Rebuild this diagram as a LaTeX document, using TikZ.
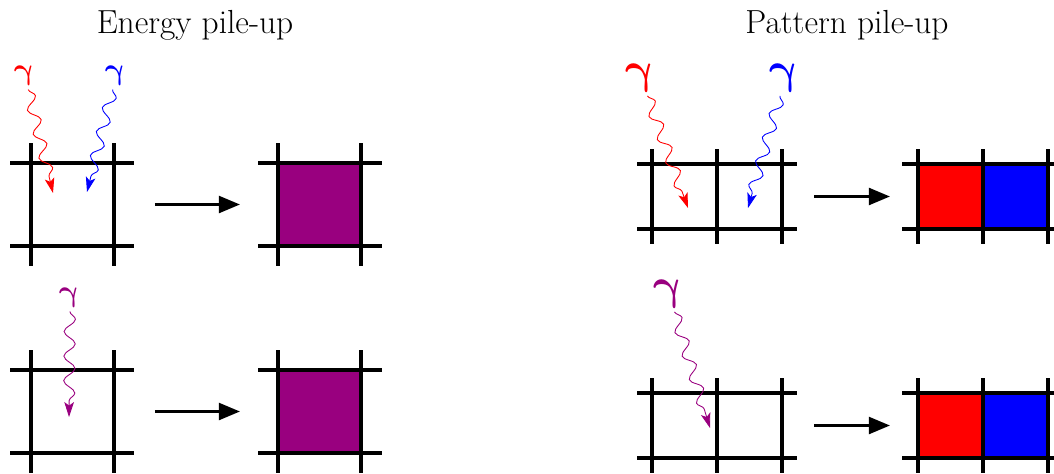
\documentclass[tikz,border=0pt]{standalone}
\usepackage{amsmath}
\usepackage{amssymb}
\usepackage{tikz}
\usetikzlibrary{arrows.meta,decorations.pathmorphing}

\definecolor{pileup}{RGB}{153,0,127}

\begin{document}
\begin{tikzpicture}[
            x=0.02cm, y=-0.02cm,
            grid/.style={line width=2pt},
            bigcell/.style={minimum size=1.66cm, inner sep=0pt, outer sep=0pt},
            smallcell/.style={minimum size=1.3cm, inner sep=0pt, outer sep=0pt},
            flow/.style={line width=1.8pt, -{Triangle[length=12pt,width=9.5pt]}},
            photon/.style={font=\fontsize{19}{19}\selectfont, inner sep=2pt, transform shape},
            bigphoton/.style={font=\fontsize{24}{24}\selectfont, inner sep=2pt, transform shape},
            wave/.style={decorate, line width=0.5pt,
                decoration={snake, amplitude=3.2pt, segment length=14pt, post length=8pt},
                -{Stealth[length=8.5pt,width=5.5pt,inset=2pt]}},
            title/.style={font=\fontsize{19}{21}\selectfont}
        ]
        \useasboundingbox (0,0) rectangle (1054,473);

        % --- Titles ---
        \node[title] (tE) at (195,25) {Energy pile-up};
        \node[title] (tP) at (847,25) {Pattern pile-up};

        % --- Energy pile-up: cells ---
        \node[bigcell] (e1) at (72.5,204.5) {};
        \node[bigcell,fill=pileup] (e2) at (319.5,204.5) {};
        \node[bigcell] (e3) at (72.5,411.5) {};
        \node[bigcell,fill=pileup] (e4) at (319.5,411.5) {};

        % --- Pattern pile-up: cells ---
        \node[smallcell] (p1) at (684.5,196.5) {};
        \node[smallcell] (p2) at (749.5,196.5) {};
        \node[smallcell,fill=red] (p3) at (950.5,196.5) {};
        \node[smallcell,fill=blue] (p4) at (1015.5,196.5) {};
        \node[smallcell] (p5) at (684.5,425.5) {};
        \node[smallcell] (p6) at (749.5,425.5) {};
        \node[smallcell,fill=red] (p7) at (950.5,425.5) {};
        \node[smallcell,fill=blue] (p8) at (1015.5,425.5) {};

        % --- Grid lines ---
        \foreach \x in {31,114,278,361} {
            \draw[grid] (\x,143) -- (\x,266);
            \draw[grid] (\x,350) -- (\x,473);
        }
        \foreach \y in {163,246,370,453} {
            \draw[grid] (10,\y) -- (134,\y);
            \draw[grid] (258,\y) -- (382,\y);
        }
        \foreach \x in {652,717,782,918,983,1048} {
            \draw[grid] (\x,149) -- (\x,244);
            \draw[grid] (\x,378) -- (\x,473);
        }
        \foreach \y in {164,229,393,458} {
            \draw[grid] (637,\y) -- (797,\y);
            \draw[grid] (902,\y) -- (1064,\y);
        }

        % --- Arrows between grids ---
        \draw[flow, shorten <=0.82cm, shorten >=0.76cm] (e1) -- (e2);
        \draw[flow, shorten <=0.82cm, shorten >=0.76cm] (e3) -- (e4);
        \draw[flow, shorten <=0.64cm, shorten >=0.56cm] (p2) -- (p3);
        \draw[flow, shorten <=0.64cm, shorten >=0.56cm] (p6) -- (p7);

        % --- Photons (upright gamma) ---
        \begin{scope}[shift={(25,76)}, xslant=-0.25]
            \node[photon,red] (g1) at (0,0) {$\boldsymbol{\gamma}$};
        \end{scope}
        \begin{scope}[shift={(116,76)}, xslant=-0.25]
            \node[photon,blue] (g2) at (0,0) {$\boldsymbol{\gamma}$};
        \end{scope}
        \begin{scope}[shift={(70,298)}, xslant=-0.25]
            \node[photon,pileup] (g3) at (0,0) {$\boldsymbol{\gamma}$};
        \end{scope}
        \begin{scope}[shift={(641,78)}, xslant=-0.25]
            \node[bigphoton,red] (g4) at (0,0) {$\boldsymbol{\gamma}$};
        \end{scope}
        \begin{scope}[shift={(785,78)}, xslant=-0.25]
            \node[bigphoton,blue] (g5) at (0,0) {$\boldsymbol{\gamma}$};
        \end{scope}
        \begin{scope}[shift={(669,294)}, xslant=-0.25]
            \node[bigphoton,pileup] (g6) at (0,0) {$\boldsymbol{\gamma}$};
        \end{scope}

        \coordinate (h1) at (53,193);
        \coordinate (h2) at (87,192);
        \coordinate (h3) at (69,417);
        \coordinate (h4) at (688,208);
        \coordinate (h5) at (748,208);
        \coordinate (h6) at (710,428);

        \draw[wave,red] (g1) -- (h1);
        \draw[wave,blue] (g2) -- (h2);
        \draw[wave,pileup] (g3) -- (h3);
        \draw[wave,red] (g4) -- (h4);
        \draw[wave,blue] (g5) -- (h5);
        \draw[wave,pileup] (g6) -- (h6);
        \end{tikzpicture}
\end{document}
